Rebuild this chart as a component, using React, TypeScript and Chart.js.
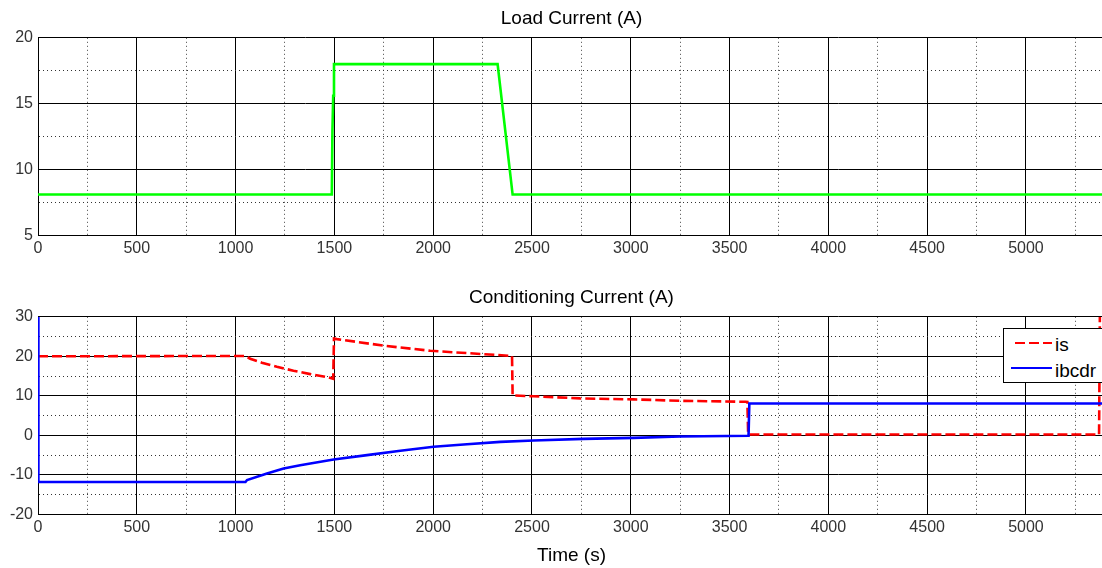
import React, { useEffect, useRef } from "react";
import { Chart, registerables } from "chart.js";

Chart.register(...registerables);

const FONT = "'Liberation Sans', Arial, Helvetica, sans-serif";

// ---- axis ticks ----
const timeTicks = [0, 250, 500, 750, 1000, 1250, 1500, 1750, 2000, 2250, 2500, 2750, 3000, 3250, 3500, 3750, 4000, 4250, 4500, 4750, 5000, 5250];
const timeLabels = [0, 500, 1000, 1500, 2000, 2500, 3000, 3500, 4000, 4500, 5000];
const loadTicks = [5, 7.5, 10, 12.5, 15, 17.5, 20];
const loadLabels = [5, 10, 15, 20];
const condTicks = [-20, -15, -10, -5, 0, 5, 10, 15, 20, 25, 30];
const condLabels = [-20, -10, 0, 10, 20, 30];

// ---- Load current (A) ----
const loadTime = [0, 1487, 1490, 1494, 1498, 2326, 2402, 5400];
const loadCurrent = [8.1, 8.1, 12.9, 15.6, 18, 18, 8.1, 8.1];

// ---- Conditioning current: is ----
const isTime = [0, 1049, 1074, 1133, 1209, 1293, 1378, 1470, 1494, 1498, 1513, 1749, 1985, 2255, 2399, 2402, 2507, 2743, 3014, 3250, 3580, 3590, 3594, 5370, 5374];
const isCurrent = [20, 20.1, 19.4, 18.4, 17.35, 16.35, 15.5, 14.65, 14.3, 24.5, 24.35, 22.7, 21.4, 20.55, 20.1, 10.1, 9.9, 9.35, 9.1, 8.75, 8.5, 8.45, 0.2, 0.2, 30];

// ---- Conditioning current: ibcdr ----
const ibcdrTime = [0, 2, 1050, 1058, 1159, 1243, 1327, 1496, 1665, 1834, 2002, 2171, 2340, 2508, 2760, 3014, 3250, 3596, 3600, 5400];
const ibcdrCurrent = [30, -11.8, -11.8, -11.3, -9.65, -8.4, -7.55, -6.1, -5.0, -3.9, -2.9, -2.25, -1.65, -1.3, -0.9, -0.63, -0.3, -0.12, 8.05, 8.05];

const toXY = (t: number[], v: number[]) => t.map((x, i) => ({ x, y: v[i] }));

const TITLE_H = 37.8;
const PLOT_H = 197.6;

function buildOptions(
  title: string,
  yMin: number,
  yMax: number,
  yTicks: number[],
  yLabels: number[],
  canvasH: number,
  xTitle: string | null
): any {
  const minorX = (c: any) => c.tick && !timeLabels.includes(c.tick.value);
  const minorY = (c: any) => c.tick && !yLabels.includes(c.tick.value);
  return {
    responsive: false,
    animation: false,
    events: [],
    layout: { padding: 0 },
    plugins: {
      legend: { display: false },
      tooltip: { enabled: false },
      title: {
        display: true,
        text: title,
        fullSize: false,
        color: "#000",
        font: { family: FONT, size: 19, weight: "normal", lineHeight: 1.2 },
        padding: { top: 7, bottom: 8 },
      },
    },
    scales: {
      x: {
        type: "linear",
        min: 0,
        max: 5400,
        afterBuildTicks: (s: any) => {
          s.ticks = timeTicks.map((v) => ({ value: v }));
        },
        afterFit: (s: any) => {
          s.height = canvasH - TITLE_H - PLOT_H;
        },
        ticks: {
          autoSkip: false,
          maxRotation: 0,
          padding: 4,
          color: "#333",
          font: { family: FONT, size: 16 },
          callback: (v: any) => (timeLabels.includes(Number(v)) ? String(v) : ""),
        },
        grid: {
          drawTicks: false,
          color: (c: any) => (minorX(c) ? "#444" : "#000"),
          lineWidth: 1,
        },
        border: {
          display: true,
          color: "#000",
          width: 1,
          dash: (c: any) => (minorX(c) ? [1, 3] : []),
        },
        title: xTitle
          ? {
              display: true,
              text: xTitle,
              color: "#000",
              font: { family: FONT, size: 19, weight: "normal", lineHeight: 1.2 },
              padding: { top: 0, bottom: 1 },
            }
          : { display: false },
      },
      y: {
        type: "linear",
        min: yMin,
        max: yMax,
        afterBuildTicks: (s: any) => {
          s.ticks = yTicks.map((v) => ({ value: v }));
        },
        afterFit: (s: any) => {
          s.width = 38;
        },
        ticks: {
          autoSkip: false,
          padding: 5,
          color: "#333",
          font: { family: FONT, size: 16 },
          callback: (v: any) => (yLabels.includes(Number(v)) ? String(v) : ""),
        },
        grid: {
          drawTicks: false,
          color: (c: any) => (minorY(c) ? "#333" : "#000"),
          lineWidth: 1,
        },
        border: {
          display: true,
          color: "#000",
          width: 1,
          dash: (c: any) => (minorY(c) ? [1, 3] : []),
        },
      },
    },
  };
}

export default function App() {
  const topRef = useRef<HTMLCanvasElement | null>(null);
  const botRef = useRef<HTMLCanvasElement | null>(null);

  useEffect(() => {
    const top = new Chart(topRef.current as HTMLCanvasElement, {
      type: "line",
      data: {
        datasets: [
          {
            label: "Load Current",
            data: toXY(loadTime, loadCurrent),
            borderColor: "#00ff00",
            backgroundColor: "#00ff00",
            borderWidth: 2.6,
            pointRadius: 0,
            tension: 0,
            fill: false,
          },
        ],
      },
      options: buildOptions("Load Current (A)", 5, 20, loadTicks, loadLabels, 270, null),
    });
    const bot = new Chart(botRef.current as HTMLCanvasElement, {
      type: "line",
      data: {
        datasets: [
          {
            label: "is",
            data: toXY(isTime, isCurrent),
            borderColor: "#ff0000",
            backgroundColor: "#ff0000",
            borderWidth: 2.6,
            borderDash: [10, 4],
            pointRadius: 0,
            tension: 0,
            fill: false,
            order: 2,
          },
          {
            label: "ibcdr",
            data: toXY(ibcdrTime, ibcdrCurrent),
            borderColor: "#0000ff",
            backgroundColor: "#0000ff",
            borderWidth: 2.6,
            pointRadius: 0,
            tension: 0,
            fill: false,
            order: 1,
          },
        ],
      },
      options: buildOptions("Conditioning Current (A)", -20, 30, condTicks, condLabels, 289, "Time (s)"),
    });
    return () => {
      top.destroy();
      bot.destroy();
    };
  }, []);

  const legendText: React.CSSProperties = {
    position: "absolute",
    left: 51,
    fontFamily: FONT,
    fontSize: 19,
    lineHeight: "19px",
    color: "#000",
    whiteSpace: "nowrap",
  };

  return (
    <div
      style={{
        position: "fixed",
        left: 0,
        top: 0,
        width: 1102,
        height: 568,
        overflow: "hidden",
        background: "#fff",
      }}
    >
      <canvas
        ref={topRef}
        width={1105}
        height={270}
        style={{ position: "absolute", left: 0, top: 0, width: 1105, height: 270 }}
      />
      <canvas
        ref={botRef}
        width={1105}
        height={289}
        style={{ position: "absolute", left: 0, top: 279, width: 1105, height: 289 }}
      />
      <div
        style={{
          position: "absolute",
          left: 1003,
          top: 328,
          width: 120,
          height: 53,
          border: "1px solid #000",
          background: "#fff",
          boxSizing: "content-box",
        }}
      >
        <div
          style={{
            position: "absolute",
            left: 11,
            top: 12.5,
            width: 37,
            height: 2.6,
            background: "repeating-linear-gradient(to right, #ff0000 0px, #ff0000 10px, transparent 10px, transparent 14px)",
          }}
        />
        <div style={{ ...legendText, top: 5.6 }}>is</div>
        <div
          style={{
            position: "absolute",
            left: 7,
            top: 37.7,
            width: 41,
            height: 2.6,
            background: "#0000ff",
          }}
        />
        <div style={{ ...legendText, top: 31.6 }}>ibcdr</div>
      </div>
    </div>
  );
}
